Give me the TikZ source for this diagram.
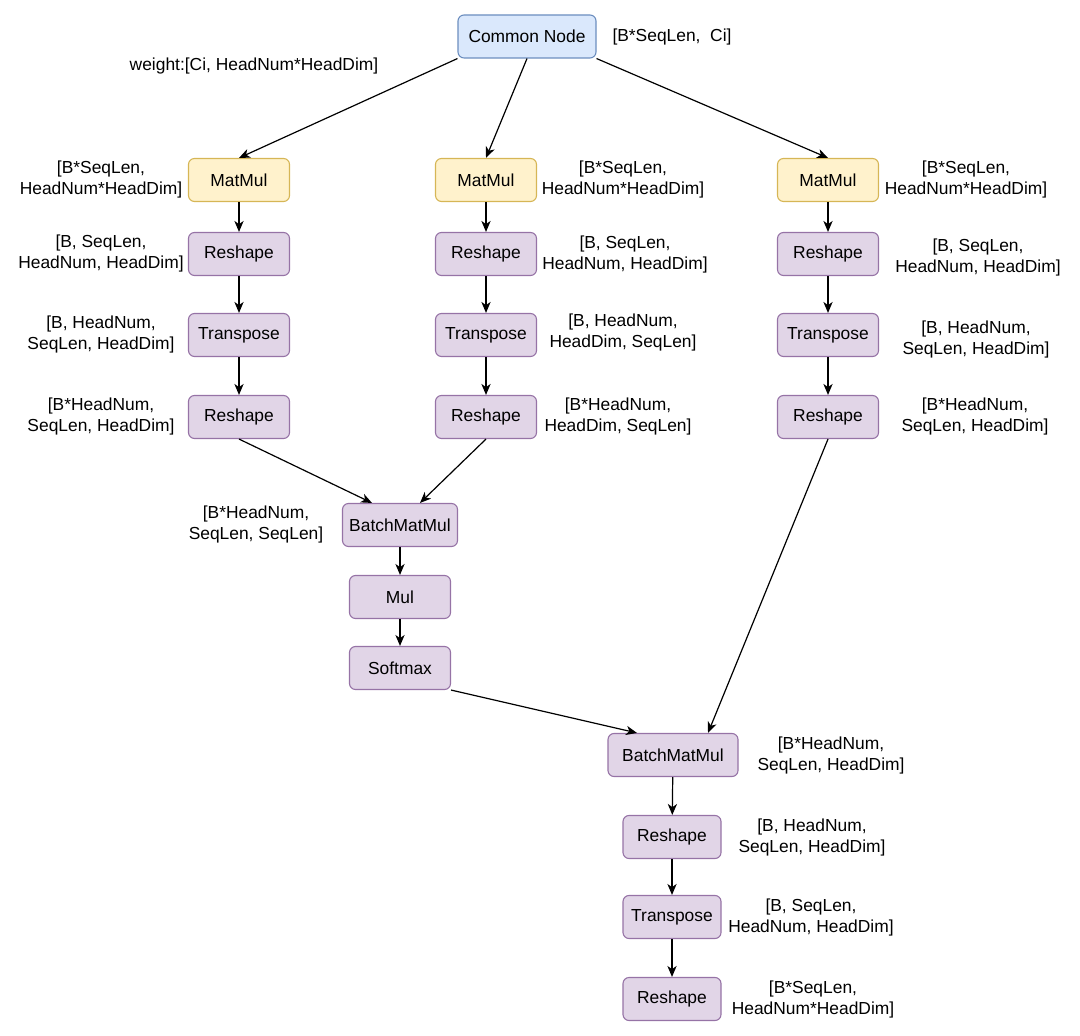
\documentclass[tikz,border=0pt]{standalone}
\usepackage{fontspec}
\setmainfont{Liberation Sans}
\usetikzlibrary{arrows.meta}
\definecolor{azulf}{HTML}{DAE8FC}
\definecolor{azulb}{HTML}{6C8EBF}
\definecolor{amaf}{HTML}{FFF2CC}
\definecolor{amab}{HTML}{D6B656}
\definecolor{moraf}{HTML}{E1D5E7}
\definecolor{morab}{HTML}{9673A6}

\begin{document}
\begin{tikzpicture}[
      x=0.5pt, y=-0.5pt,
      caja/.style={draw, rounded corners=3pt, align=center, line width=0.55pt,
                   font=\fontsize{8.7}{10.5}\selectfont,
                   minimum width=50.5pt, minimum height=21.5pt, inner sep=1pt},
      comun/.style={caja, fill=azulf, draw=azulb, minimum width=69pt},
      peso/.style={caja, fill=amaf, draw=amab},
      oper/.style={caja, fill=moraf, draw=morab},
      dim/.style={align=center, inner sep=0pt, font=\fontsize{8.7}{10.5}\selectfont},
      flujo/.style={-{Stealth[length=5.5pt, width=4.6pt, inset=1.6pt]}, line width=0.6pt}
    ]
    \useasboundingbox (0,0) rectangle (1080,1036);

    \node[comun] (cn) at (527,36.5) {Common Node};
    \node[dim]   (wt) at (254,66)   {weight:[Ci, HeadNum*HeadDim]};
    \node[dim]   (in) at (672,37)   {[B*SeqLen,\ \ Ci]};

    % rama izquierda
    \node[peso] (mm1) at (239,180) {MatMul};
    \node[oper] (ra1) at (239,254) {Reshape};
    \node[oper] (ta1) at (239,335) {Transpose};
    \node[oper] (rb1) at (239,417) {Reshape};
    \node[dim] (dm1) at (101,180) {[B*SeqLen,\\HeadNum*HeadDim]};
    \node[dim] (da1) at (101,254) {[B, SeqLen,\\HeadNum, HeadDim]};
    \node[dim] (dt1) at (101,335) {[B, HeadNum,\\SeqLen, HeadDim]};
    \node[dim] (db1) at (101,417) {[B*HeadNum,\\SeqLen, HeadDim]};

    % rama central
    \node[peso] (mm2) at (486,180) {MatMul};
    \node[oper] (ra2) at (486,254) {Reshape};
    \node[oper] (ta2) at (486,335) {Transpose};
    \node[oper] (rb2) at (486,417) {Reshape};
    \node[dim] (dm2) at (623,180) {[B*SeqLen,\\HeadNum*HeadDim]};
    \node[dim] (da2) at (625,255) {[B, SeqLen,\\HeadNum, HeadDim]};
    \node[dim] (dt2) at (623,333) {[B, HeadNum,\\HeadDim, SeqLen]};
    \node[dim] (db2) at (618,417) {[B*HeadNum,\\HeadDim, SeqLen]};

    % rama derecha
    \node[peso] (mm3) at (828,180) {MatMul};
    \node[oper] (ra3) at (828,254) {Reshape};
    \node[oper] (ta3) at (828,335) {Transpose};
    \node[oper] (rb3) at (828,417) {Reshape};
    \node[dim] (dm3) at (966,180) {[B*SeqLen,\\HeadNum*HeadDim]};
    \node[dim] (da3) at (978,258) {[B, SeqLen,\\HeadNum, HeadDim]};
    \node[dim] (dt3) at (976,340) {[B, HeadNum,\\SeqLen, HeadDim]};
    \node[dim] (db3) at (975,417) {[B*HeadNum,\\SeqLen, HeadDim]};

    % atencion
    \node[oper, minimum width=57.5pt] (bm1) at (400,525) {BatchMatMul};
    \node[oper] (mul) at (400,597) {Mul};
    \node[oper] (smx) at (400,668) {Softmax};
    \node[dim]  (dbm1) at (256,525) {[B*HeadNum,\\SeqLen, SeqLen]};

    % salida
    \node[oper, minimum width=65pt] (bm2) at (673,755) {BatchMatMul};
    \node[oper, minimum width=49pt] (ro1) at (672,837) {Reshape};
    \node[oper, minimum width=49pt] (to1) at (672,917) {Transpose};
    \node[oper, minimum width=49pt] (ro2) at (672,999) {Reshape};
    \node[dim] (dbm2) at (831,755) {[B*HeadNum,\\SeqLen, HeadDim]};
    \node[dim] (dro1) at (812,837) {[B, HeadNum,\\SeqLen, HeadDim]};
    \node[dim] (dto1) at (811,917) {[B, SeqLen,\\HeadNum, HeadDim]};
    \node[dim] (dro2) at (813,999) {[B*SeqLen,\\HeadNum*HeadDim]};

    \draw[flujo] (cn.south west) -- (mm1.north);
    \draw[flujo] (cn.south) -- (mm2.north);
    \draw[flujo] (cn.south east) -- (mm3.north);
    \foreach \a/\b in {mm1/ra1, ra1/ta1, ta1/rb1, mm2/ra2, ra2/ta2, ta2/rb2,
                       mm3/ra3, ra3/ta3, ta3/rb3, bm1/mul, mul/smx,
                       bm2/ro1, ro1/to1, to1/ro2}
      \draw[flujo] (\a) -- (\b);
    \draw[flujo] (rb1.south) -- ([xshift=-14pt]bm1.north);
    \draw[flujo] (rb2.south) -- ([xshift=10pt]bm1.north);
    \draw[flujo] (smx.south east) -- ([xshift=-18pt]bm2.north);
    \draw[flujo] (rb3.south) -- ([xshift=17.5pt]bm2.north);
  \end{tikzpicture}
\end{document}
